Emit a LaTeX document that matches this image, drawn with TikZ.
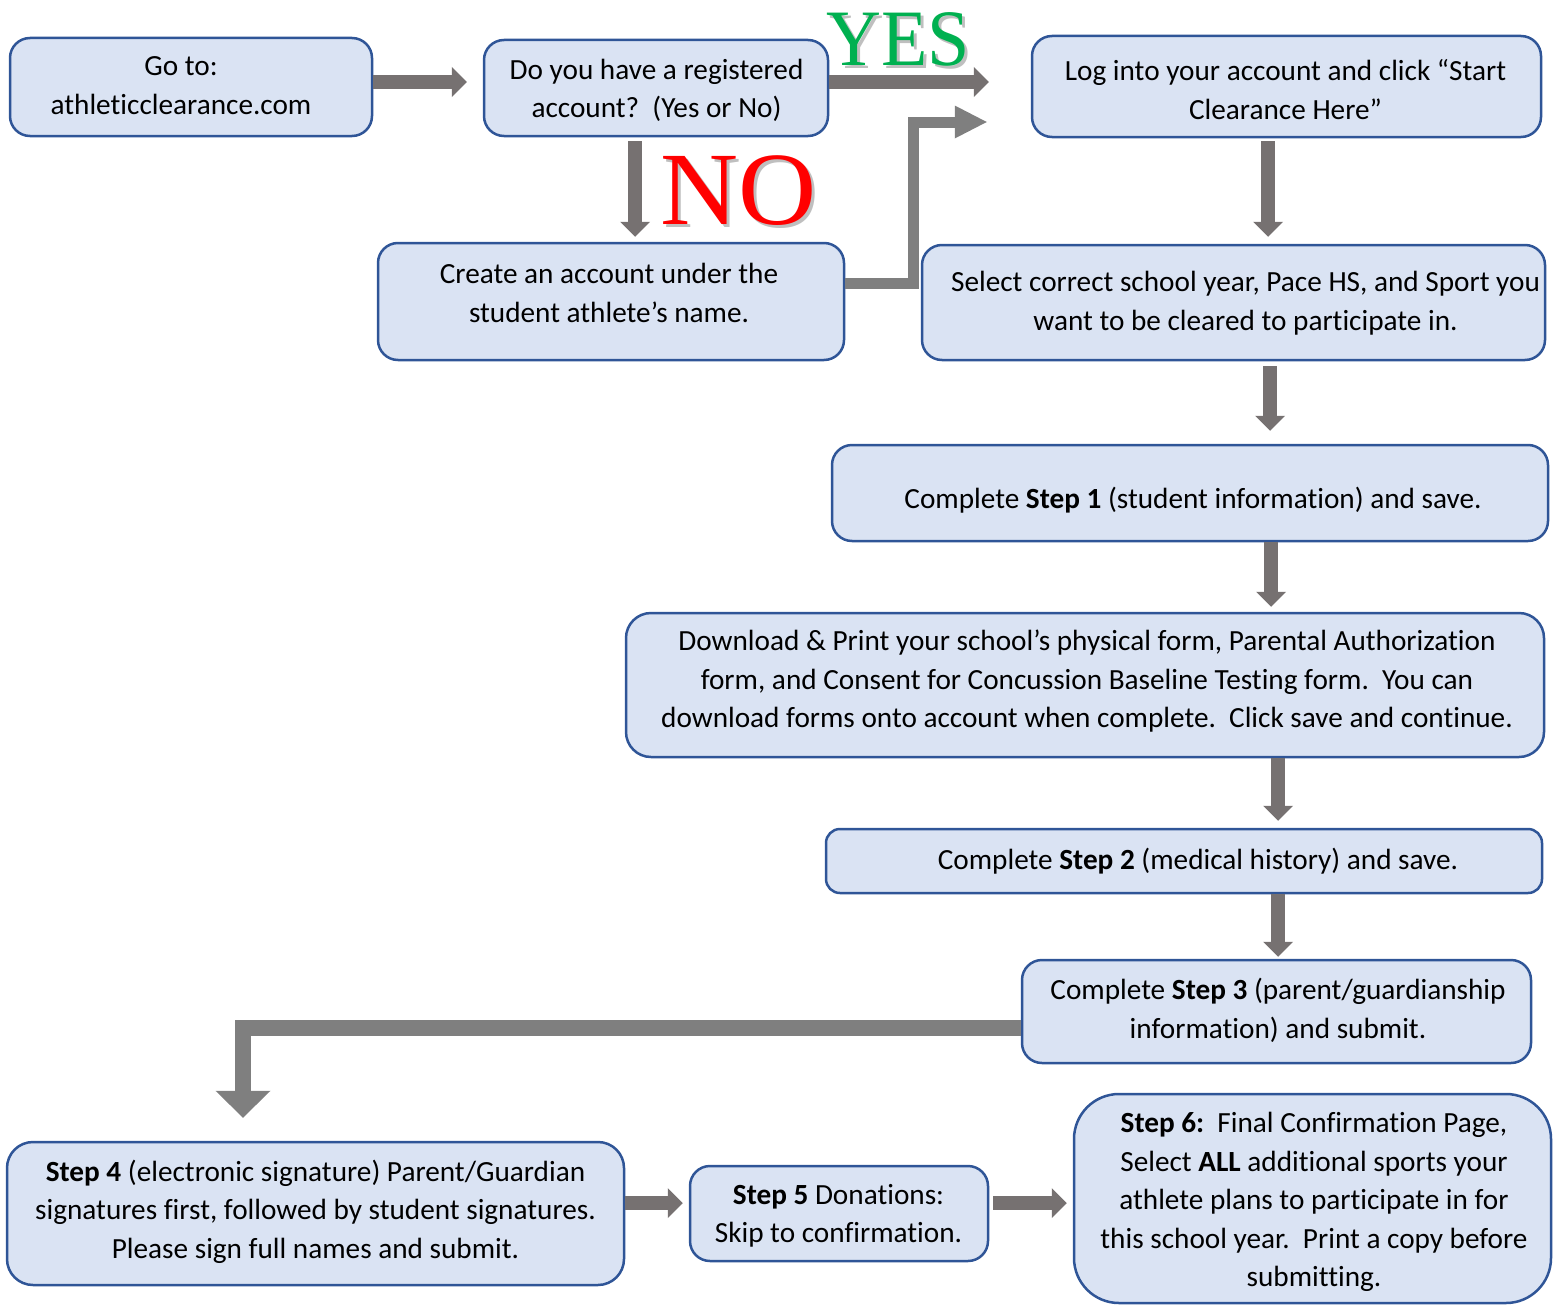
\documentclass[tikz,border=0pt]{standalone}
\usepackage{fontspec}
\setmainfont{Carlito}[Ligatures=CommonOff]
\newfontfamily\yesfont{Liberation Serif}
\usetikzlibrary{arrows.meta}
\definecolor{boxfill}{HTML}{DAE3F3}
\definecolor{boxline}{HTML}{2F5597}
\definecolor{arrgray}{HTML}{767171}
\definecolor{arrgraytwo}{HTML}{7F7F7F}
\definecolor{yesgreen}{HTML}{00B050}
\definecolor{nored}{HTML}{FF0000}
\begin{document}
\begin{tikzpicture}[x=1pt,y=-1pt,
  box/.style={draw=boxline, fill=boxfill, line width=2.5pt, rounded corners=20pt, inner sep=0pt},
  txt/.style={align=center, font=\fontsize{29.25}{38.5}\selectfont, inner sep=0pt},
  barrow/.style={draw=arrgray, line width=14.5pt, -{Triangle[width=30pt,length=15pt,line width=0pt]}},
  elbowA/.style={draw=arrgraytwo, line width=11pt, -{Triangle[width=33pt,length=32pt,line width=0pt]}},
  elbowB/.style={draw=arrgraytwo, line width=16pt, -{Triangle[width=55pt,length=27pt,line width=0pt]}},
]
\useasboundingbox (0,0) rectangle (1558,1306);

% boxes
\node[box, minimum width=362, minimum height=98] (go) at (191,87) {};
\node[box, minimum width=344, minimum height=96] (ask) at (656,88) {};
\node[box, minimum width=509, minimum height=101] (log) at (1286.5,86.5) {};
\node[box, minimum width=466, minimum height=117] (create) at (611,301.5) {};
\node[box, minimum width=623, minimum height=115] (sel) at (1233.5,302.5) {};
\node[box, minimum width=716, minimum height=96] (sone) at (1190,493) {};
\node[box, minimum width=918, minimum height=144, rounded corners=25pt] (dl) at (1085,685) {};
\node[box, minimum width=716, minimum height=64, rounded corners=14pt] (stwo) at (1184,861) {};
\node[box, minimum width=509, minimum height=103] (sthree) at (1276.5,1011.5) {};
\node[box, minimum width=617, minimum height=143, rounded corners=26pt] (sfour) at (315.5,1213.5) {};
\node[box, minimum width=298, minimum height=95] (sfive) at (839,1213.5) {};
\node[box, minimum width=477, minimum height=209, rounded corners=45pt] (ssix) at (1312.5,1198.5) {};

% texts
\node[txt] (tgo) at (181,85.5) {Go to:\\athleticclearance.com};
\node[txt] (task) at (656.5,90.5) {Do you have a registered\\account?\ \ (Yes or No)};
\node[txt] (tlog) at (1285.5,89.5) {Log into your account and click “Start\\Clearance Here”};
\node[txt] (tcreate) at (609,293) {Create an account under the\\student athlete’s name.};
\node[txt] (tsel) at (1245.5,303) {Select correct school year, Pace HS, and Sport you\\want to be cleared to participate in.};
\node[txt] (tsone) at (1193,500) {Complete \textbf{Step 1} (student information) and save.};
\node[txt] (tdl) at (1087,681.5) {Download \& Print your school’s physical form, Parental Authorization\\form, and Consent for Concussion Baseline Testing form.\ \ You can\\download forms onto account when complete.\ \ Click save and continue.};
\node[txt] (tstwo) at (1198,861) {Complete \textbf{Step 2} (medical history) and save.};
\node[txt] (tsthree) at (1278,1010.5) {Complete \textbf{Step 3} (parent/guardianship\\information) and submit.};
\node[txt] (tsfour) at (315.5,1211.5) {\textbf{Step 4} (electronic signature) Parent/Guardian\\signatures first, followed by student signatures.\\Please sign full names and submit.};
\node[txt] (tsfive) at (838.5,1216) {\textbf{Step 5} Donations:\\Skip to confirmation.};
\node[txt] (tssix) at (1314,1202) {\textbf{Step 6:}\ \ Final Confirmation Page,\\Select \textbf{ALL} additional sports your\\athlete plans to participate in for\\this school year.\ \ Print a copy before\\submitting.};

% YES / NO labels
\node[inner sep=0pt, text=black!25, xscale=0.95, font=\yesfont\fontsize{80}{80}\selectfont] (yesshadow) at (901,42) {YES};
\node[inner sep=0pt, text=yesgreen, xscale=0.95, font=\yesfont\fontsize{80}{80}\selectfont] (yes) at (898,39) {YES};
\node[inner sep=0pt, text=black!25, xscale=1.04, font=\yesfont\fontsize{104}{104}\selectfont] (noshadow) at (741.5,194) {NO};
\node[inner sep=0pt, text=nored, xscale=1.04, font=\yesfont\fontsize{104}{104}\selectfont] (no) at (738.5,191) {NO};

% connectors
\draw[barrow, shorten >=16pt] (go.east |- 0,82) -- (ask.west |- 0,82);
\draw[barrow, shorten >=42pt] (ask.east |- 0,82) -- (log.west |- 0,82);
\draw[barrow, shorten <=4pt, shorten >=5pt] (635,0 |- ask.south) -- (635,0 |- create.north);
\draw[elbowA, shorten >=44pt] (create.east |- 0,283) -| (913,122) -- (log.west |- 0,122);
\draw[barrow, shorten <=3pt, shorten >=7pt] (1268,0 |- log.south) -- (1268,0 |- sel.north);
\draw[barrow, shorten <=5pt, shorten >=13pt] (1270,0 |- sel.south) -- (1270,0 |- sone.north);
\draw[barrow, shorten >=5pt] (1271,0 |- sone.south) -- (1271,0 |- dl.north);
\draw[barrow, shorten >=7pt] (1278,0 |- dl.south) -- (1278,0 |- stwo.north);
\draw[barrow, shorten >=2pt] (1278,0 |- stwo.south) -- (1278,0 |- sthree.north);
\draw[elbowB, shorten >=23pt] (sthree.west |- 0,1028) -| (243,0 |- sfour.north);
\draw[barrow, shorten >=6pt] (sfour.east |- 0,1203) -- (sfive.west |- 0,1203);
\draw[barrow, shorten <=4pt, shorten >=6pt] (sfive.east |- 0,1203) -- (ssix.west |- 0,1203);
\end{tikzpicture}
\end{document}
